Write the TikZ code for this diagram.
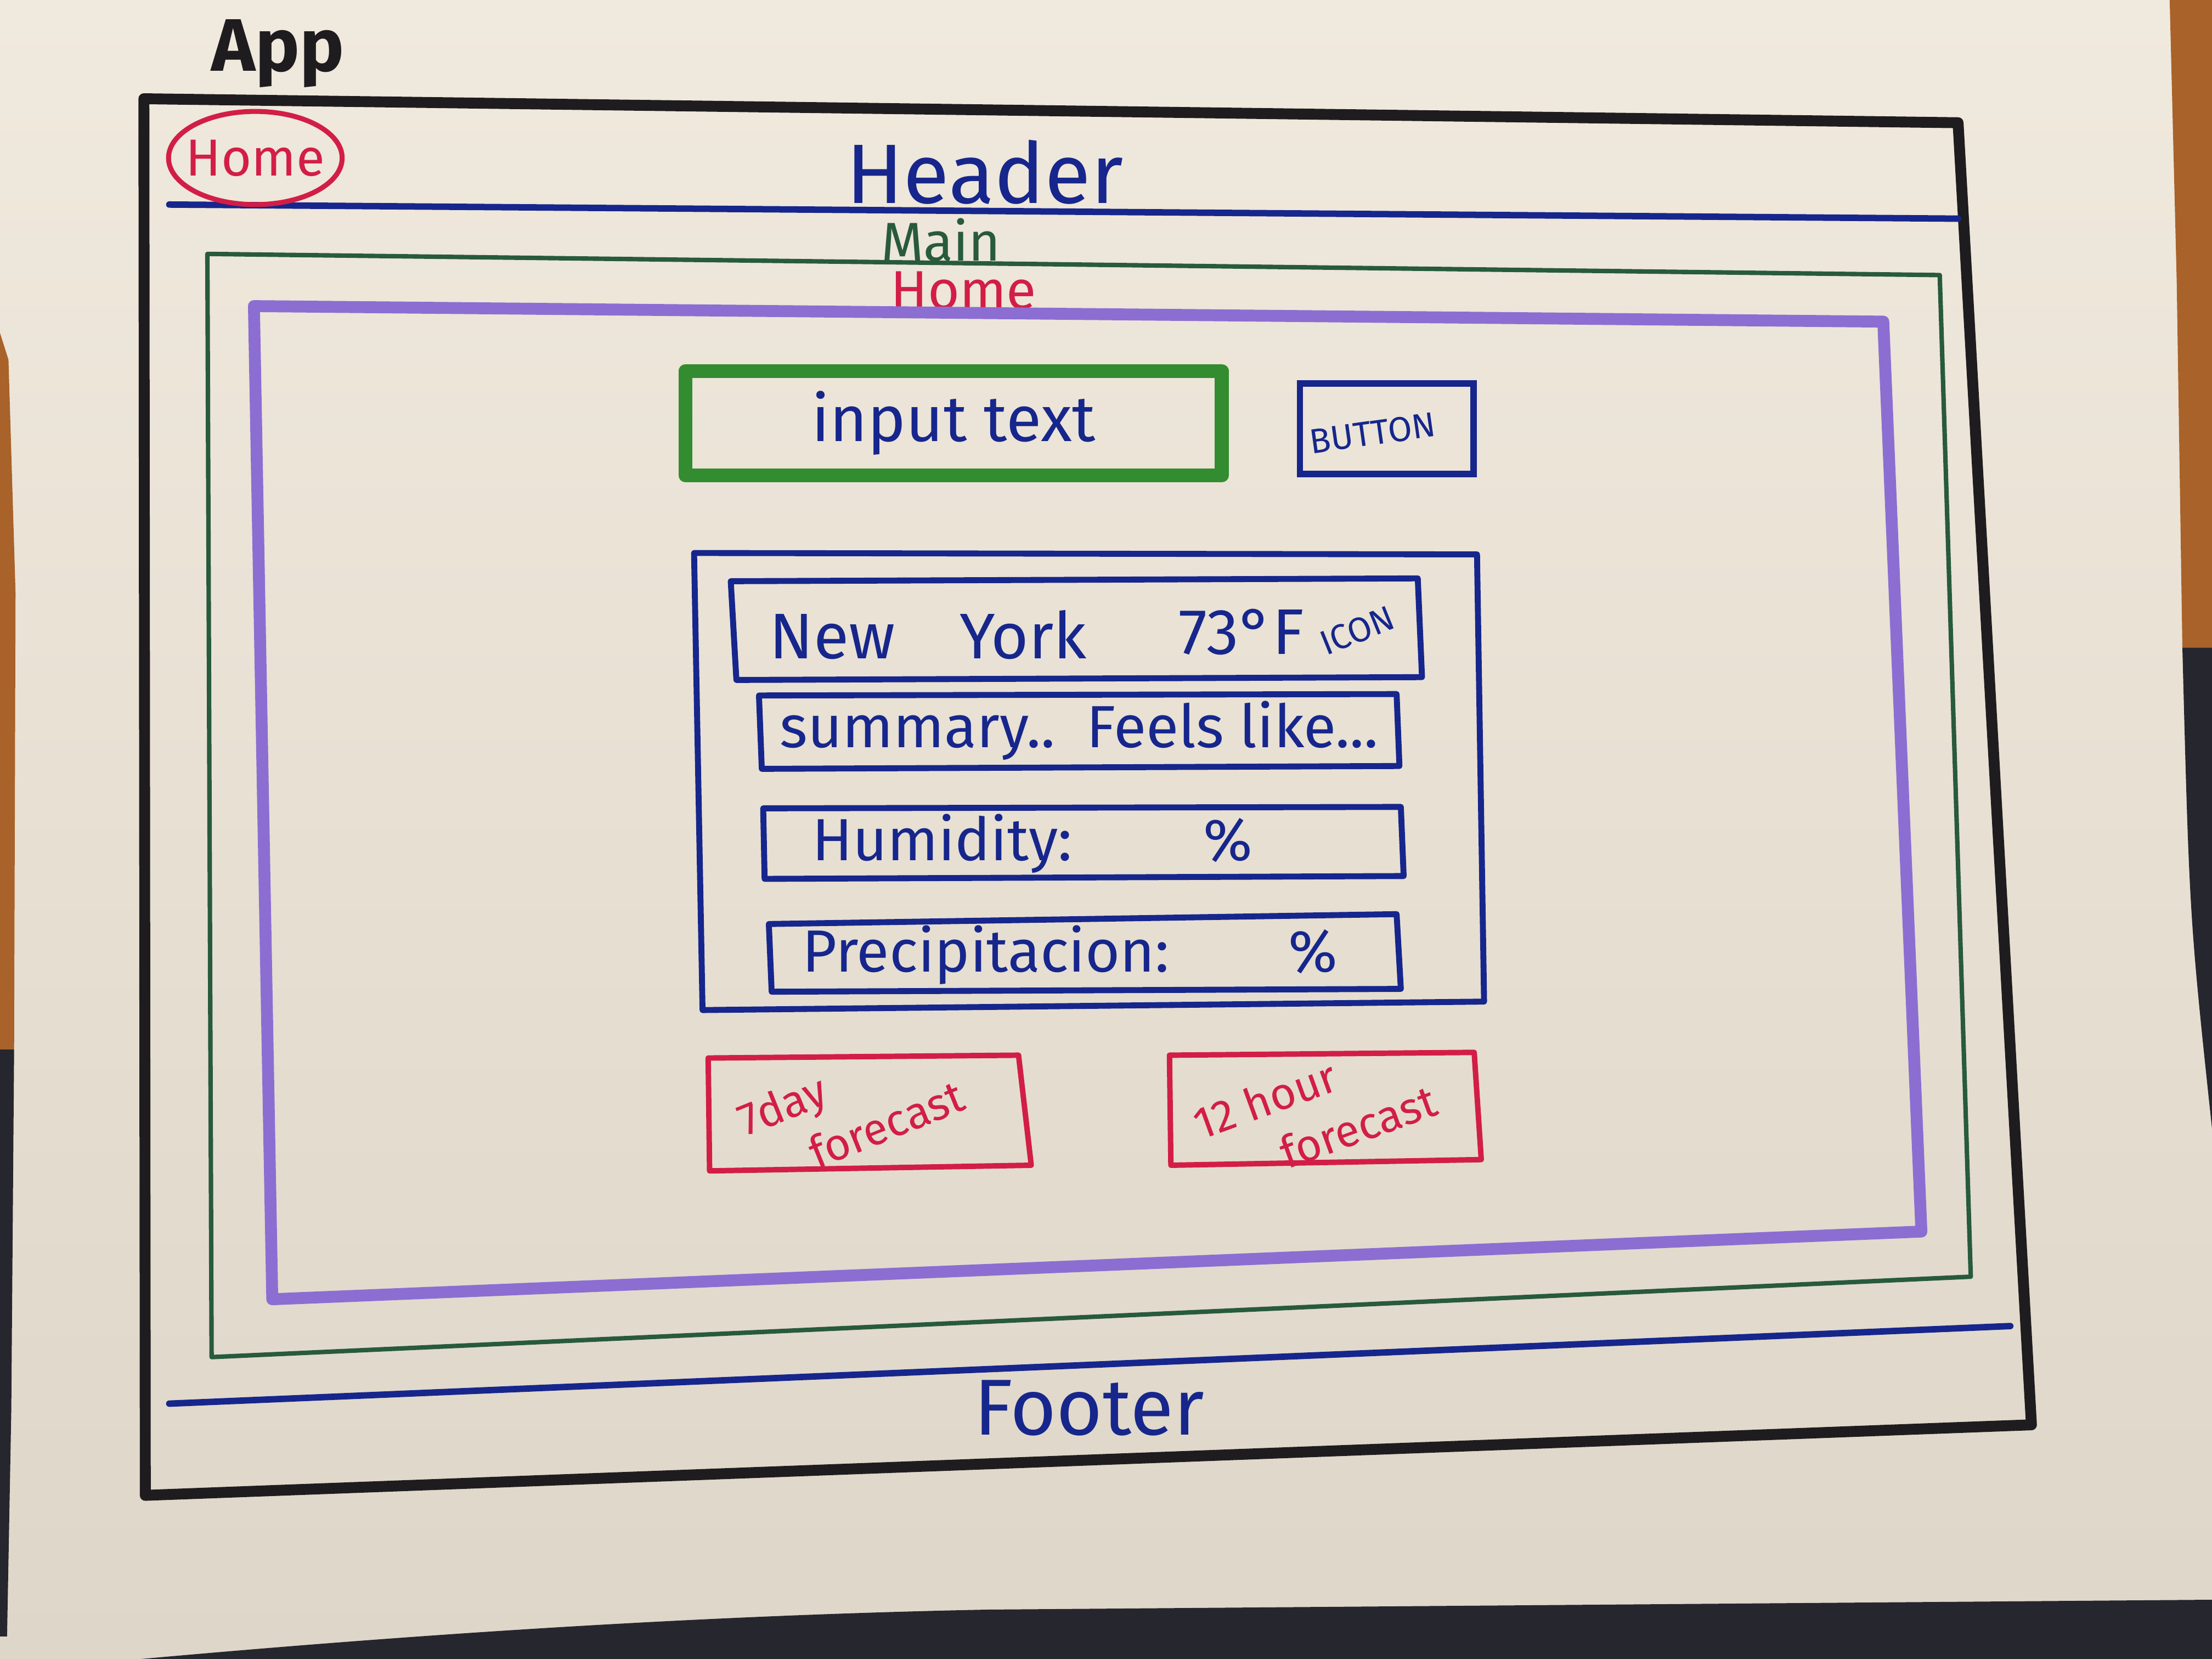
\documentclass[tikz,border=0pt]{standalone}
\usepackage{fontspec}
\setmainfont{Fira Sans}
\usetikzlibrary{shapes.geometric}
\definecolor{paperlight}{RGB}{240,233,221}
\definecolor{paperdark}{RGB}{222,214,200}
\definecolor{wood}{RGB}{168,98,42}
\definecolor{shadowdark}{RGB}{38,38,46}
\definecolor{inkblack}{RGB}{30,28,30}
\definecolor{inkblue}{RGB}{22,38,140}
\definecolor{inkgreen}{RGB}{52,140,48}
\definecolor{inkdkgreen}{RGB}{40,90,60}
\definecolor{inkpurple}{RGB}{140,110,210}
\definecolor{inkred}{RGB}{210,30,70}
\tikzset{
  frameline/.style={draw=inkblack, line width=2.2pt, line join=round},
  sepline/.style={draw=inkblue, line width=1.3pt, line cap=round},
  mainbox/.style={draw=inkdkgreen, line width=0.9pt, line join=round},
  homebox/.style={draw=inkpurple, line width=2.4pt, line join=round},
  inputbox/.style={draw=inkgreen, line width=2.8pt, line join=round},
  cardbox/.style={draw=inkblue, line width=1.2pt, line join=round},
  redbox/.style={draw=inkred, line width=1.1pt, line join=round},
  label/.style={inner sep=0pt, font=\fontsize{11}{13}\selectfont},
}
\begin{document}
\begin{tikzpicture}[x=0.01cm, y=-0.01cm]
  \useasboundingbox (0,0) rectangle (1568,1176);
  % sheet of paper on the table
  \shade[top color=paperlight, bottom color=paperdark] (0,0) rectangle (1568,1176);
  % table visible at the right edge
  \fill[wood] (1538,0) -- (1568,0) -- (1568,459) -- (1547,459) -- (1543,200) -- cycle;
  \fill[shadowdark] (1547,459) -- (1568,459) -- (1568,800) .. controls (1552,650) .. (1547,459) -- cycle;
  % table visible at the left edge
  \fill[wood] (0,236) -- (6,255) -- (11,420) -- (10,744) -- (0,744) -- cycle;
  \fill[shadowdark] (0,744) -- (10,744) -- (8,1000) -- (5,1160) -- (0,1160) -- cycle;
  % notebook binding at the bottom
  \fill[shadowdark] (100,1176) .. controls (300,1158) and (500,1145) .. (700,1141) -- (1568,1134) -- (1568,1176) -- cycle;

  % App frame
  \node[label, font=\fontsize{15}{17}\selectfont\bfseries, text=inkblack] (app) at (197,38) {App};
  \draw[frameline] (102,70) -- (1388,87) -- (1440,1010) -- (103,1060) -- cycle;

  % header and footer separators
  \draw[sepline] (120,145) -- (1388,155);
  \draw[sepline] (120,995) -- (1425,940);
  \node[label, font=\fontsize{17}{19}\selectfont, text=inkblue] (header) at (698,122) {Header};
  \node[label, font=\fontsize{16}{18}\selectfont, text=inkblue] (footer) at (772,998) {Footer};
  \node[draw=inkred, line width=1pt, ellipse, minimum width=1.23cm, minimum height=0.66cm,
        inner sep=0pt, text=inkred, font=\fontsize{10.5}{12}\selectfont] (homelink) at (181,112) {\makebox[0pt]{Home}};

  % main region
  \node[label, font=\fontsize{11}{13}\selectfont, text=inkdkgreen] (main) at (667,170) {Main};
  \draw[mainbox] (147,180) -- (1375,195) -- (1397,905) -- (150,962) -- cycle;

  % home page region
  \node[label, font=\fontsize{11}{13}\selectfont, text=inkred] (homepage) at (683,206) {Home};
  \draw[homebox] (180,217) -- (1335,228) -- (1362,873) -- (193,921) -- cycle;

  % search input and button
  \node[inputbox, minimum width=3.8cm, minimum height=0.74cm, inner sep=0pt,
        font=\fontsize{13}{15}\selectfont, text=inkblue] (input) at (676,300) {input text};
  \node[draw=inkblue, line width=1.3pt, minimum width=1.23cm, minimum height=0.64cm, inner sep=0pt] (button) at (983,304) {};
  \node[label, font=\fontsize{7}{8}\selectfont, text=inkblue, rotate=8] (buttontext) at (973,307) {BUTTON};

  % weather card
  \draw[cardbox] (492,392) -- (1047,393) -- (1052,710) -- (498,716) -- cycle;
  \draw[cardbox] (518,412) -- (1005,410) -- (1008,480) -- (522,482) -- cycle;
  \node[label, font=\fontsize{13}{15}\selectfont, text=inkblue] (city) at (658,450) {New\quad York};
  \node[label, font=\fontsize{13}{15}\selectfont, text=inkblue] (temp) at (880,448) {73°F};
  \node[label, font=\fontsize{7}{8}\selectfont, text=inkblue, rotate=22] (icon) at (962,447) {ICON};

  \draw[cardbox] (538,493) -- (990,492) -- (992,543) -- (540,545) -- cycle;
  \node[label, font=\fontsize{12}{14}\selectfont, text=inkblue] (summary) at (765,518) {summary..\ \ Feels like...};

  \draw[cardbox] (541,573) -- (993,572) -- (995,621) -- (542,623) -- cycle;
  \node[label, font=\fontsize{12}{14}\selectfont, text=inkblue, anchor=west] (humidity) at (575,598) {Humidity:\hspace{2.2em}\%};

  \draw[cardbox] (545,655) -- (990,648) -- (993,701) -- (547,703) -- cycle;
  \node[label, font=\fontsize{12}{14}\selectfont, text=inkblue, anchor=west] (precip) at (568,677) {Precipitacion:\hspace{2em}\%};

  % forecast buttons
  \draw[redbox] (502,750) -- (722,748) -- (731,826) -- (503,830) -- cycle;
  \node[label, font=\fontsize{9}{11.5}\selectfont, text=inkred, rotate=22, align=left] (week) at (603,785) {7day\\\hspace{1.2em}forecast};
  \draw[redbox] (829,748) -- (1045,746) -- (1050,822) -- (830,826) -- cycle;
  \node[label, font=\fontsize{9}{11.5}\selectfont, text=inkred, rotate=20, align=left] (hours) at (932,788) {12 hour\\\hspace{1.6em}forecast};
\end{tikzpicture}
\end{document}
